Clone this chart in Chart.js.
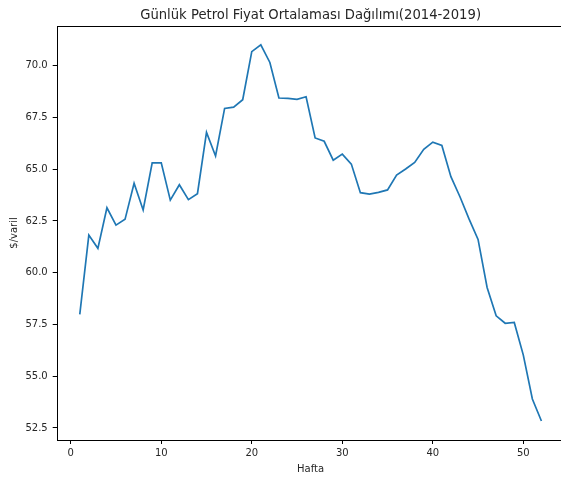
<!DOCTYPE html>
<html>
<head>
<meta charset="utf-8">
<script src="https://cdn.jsdelivr.net/npm/chart.js@4"></script>
<style>
html,body{margin:0;padding:0;background:#fff;overflow:hidden;}
canvas{display:block;}
</style>
</head>
<body>
<canvas id="c" width="566" height="477"></canvas>
<script>
const weeks = [1,2,3,4,5,6,7,8,9,10,11,12,13,14,15,16,17,18,19,20,21,22,23,24,25,26,
  27,28,29,30,31,32,33,34,35,36,37,38,39,40,41,42,43,44,45,46,47,48,49,50,51,52];
const prices = [57.99,61.82,61.18,63.14,62.30,62.58,64.32,63.03,65.31,65.31,63.51,64.25,63.53,63.82,
  66.78,65.64,67.94,68.00,68.36,70.68,71.01,70.16,68.44,68.42,68.38,68.50,
  66.51,66.35,65.44,65.73,65.25,63.87,63.80,63.88,64.00,64.72,65.01,65.33,65.96,66.31,
  66.15,64.64,63.67,62.60,61.61,59.29,57.92,57.56,57.60,56.02,53.90,52.84];
const xTicks = [0,10,20,30,40,50];
const yTicks = [52.5,55.0,57.5,60.0,62.5,65.0,67.5,70.0];
const titleText = 'Günlük Petrol Fiyat Ortalaması Dağılımı(2014-2019)';
const xLabel = 'Hafta';
const yLabel = '$/varil';

const FONT = '"DejaVu Sans", sans-serif';
const TEXT = '#262626';

const framePlugin = {
  id: 'frame',
  afterDraw(chart) {
    const {ctx, chartArea: a} = chart;
    ctx.save();
    ctx.strokeStyle = '#000';
    ctx.lineWidth = 1;
    ctx.strokeRect(Math.round(a.left) + 0.5, Math.round(a.top) + 0.5,
                   Math.round(a.right - a.left), Math.round(a.bottom - a.top));
    ctx.fillStyle = TEXT;
    ctx.textAlign = 'center';
    ctx.textBaseline = 'alphabetic';
    ctx.font = '13.2px ' + FONT;
    const cx = (a.left + a.right) / 2;
    ctx.fillText(titleText, cx, 19);
    ctx.font = '10px ' + FONT;
    ctx.fillText(xLabel, cx, 472);
    ctx.translate(17, (a.top + a.bottom) / 2);
    ctx.rotate(-Math.PI / 2);
    ctx.fillText(yLabel, 0, 0);
    ctx.restore();
  }
};

new Chart(document.getElementById('c'), {
  type: 'line',
  data: {
    datasets: [{
      data: weeks.map((w, i) => ({x: w, y: prices[i]})),
      borderColor: '#1f77b4',
      borderWidth: 1.7,
      pointRadius: 0,
      tension: 0,
      fill: false
    }]
  },
  options: {
    responsive: false,
    animation: false,
    layout: {padding: {left: 0, top: 26, right: 1.5, bottom: 0}},
    plugins: {legend: {display: false}, tooltip: {enabled: false}, title: {display: false}},
    scales: {
      x: {
        type: 'linear',
        min: -1.55,
        max: 54.55,
        afterBuildTicks: s => { s.ticks = xTicks.map(v => ({value: v})); },
        afterFit: s => { s.height = 37; },
        grid: {drawOnChartArea: false, tickLength: 4, tickColor: '#000', tickWidth: 1},
        border: {display: false},
        ticks: {color: TEXT, font: {family: FONT, size: 10}, padding: 3, maxRotation: 0,
                callback: v => String(v)}
      },
      y: {
        type: 'linear',
        min: 51.92,
        max: 71.92,
        afterBuildTicks: s => { s.ticks = yTicks.map(v => ({value: v})); },
        afterFit: s => { s.width = 56.7; },
        grid: {drawOnChartArea: false, tickLength: 4, tickColor: '#000', tickWidth: 1},
        border: {display: false},
        ticks: {color: TEXT, font: {family: FONT, size: 10}, padding: 5,
                callback: v => Number(v).toFixed(1)}
      }
    }
  },
  plugins: [framePlugin]
});
</script>
</body>
</html>
